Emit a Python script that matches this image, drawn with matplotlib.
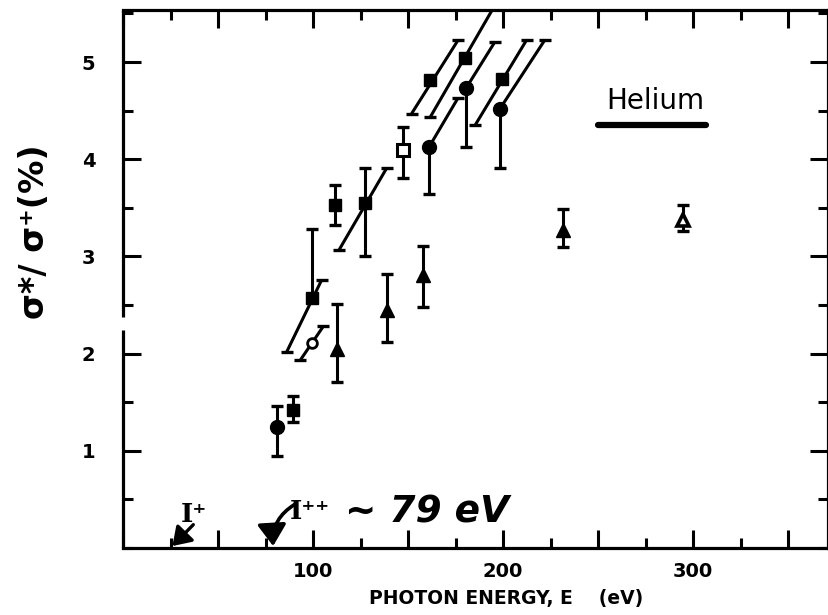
import numpy as np
import matplotlib.pyplot as plt
from matplotlib.ticker import MultipleLocator, FixedLocator, FuncFormatter

nan = np.nan

# filled circles: photon energy (eV), ratio (%), ends of the vertical bar
circ_E = [81.0, 161.2, 180.5, 198.4]
circ_r = [1.24, 4.13, 4.73, 4.52]
circ_lo = [0.95, 3.64, 4.13, 3.91]
circ_hi = [1.46, 4.13, 4.73, 4.52]

# filled squares (last three only carry slanted bars)
sq_E = [89.6, 99.3, 111.6, 127.4, 161.6, 180.0, 199.3]
sq_r = [1.42, 2.57, 3.53, 3.55, 4.81, 5.04, 4.83]
sq_lo = [1.30, 2.57, 3.32, 3.00, nan, nan, nan]
sq_hi = [1.56, 3.28, 3.73, 3.91, nan, nan, nan]

# open square and open circle
osq_E, osq_r, osq_lo, osq_hi = [147.5], [4.09], [3.81], [4.33]
ocirc_E, ocirc_r = [99.3], [2.11]

# triangles
tri_E = [112.5, 138.8, 158.0, 231.4]
tri_r = [2.05, 2.45, 2.81, 3.27]
tri_lo = [1.71, 2.12, 2.48, 3.10]
tri_hi = [2.51, 2.82, 3.11, 3.49]
otri_E, otri_r, otri_lo, otri_hi = [294.9], [3.37], [3.26], [3.53]

# slanted bars: start and end of each segment
slant_E0 = [86.2, 93.2, 113.8, 161.2, 151.9, 161.6, 180.5, 185.3, 198.4]
slant_r0 = [2.02, 1.93, 3.07, 4.13, 4.47, 4.43, 4.73, 4.35, 4.52]
slant_E1 = [104.6, 105.4, 138.8, 176.3, 176.5, 196.2, 195.8, 212.5, 222.1]
slant_r1 = [2.76, 2.28, 3.91, 4.63, 5.23, 5.60, 5.21, 5.23, 5.23]

# ionisation thresholds
thr_E = [26.0, 79.0]

plt.rcParams['font.family'] = ['DejaVu Sans']

fig = plt.figure(figsize=(8.29, 6.15), dpi=100)
ax = fig.add_axes([123 / 829, 67 / 615, 705 / 829, 538 / 615])
ax.set_xlim(0, 371)
ax.set_ylim(0, 5.535)

lw = 2.3
for s in ['top', 'right', 'bottom']:
    ax.spines[s].set_linewidth(lw)
ax.spines['left'].set_visible(False)
# left axis drawn in two pieces with a small break
tr = ax.get_yaxis_transform()
ax.plot([0, 0], [0, 2.24], transform=tr, color='k', lw=lw, clip_on=False,
        solid_capstyle='butt')
ax.plot([0, 0], [2.38, 5.535], transform=tr, color='k', lw=lw, clip_on=False,
        solid_capstyle='butt')


def bars(E, r, lo, hi):
    E, r, lo, hi = map(np.asarray, (E, r, lo, hi))
    m = ~np.isnan(lo)
    ax.errorbar(E[m], r[m], yerr=[r[m] - lo[m], hi[m] - r[m]], fmt='none',
                ecolor='k', elinewidth=2.2, capsize=4.5, capthick=2.4, zorder=2)


for e0, r0, e1, r1 in zip(slant_E0, slant_r0, slant_E1, slant_r1):
    ax.plot([e0, e1], [r0, r1], color='k', lw=2.2, zorder=2,
            solid_capstyle='butt')
    ax.plot([e0, e1], [r0, r1], ls='none', marker='_', ms=9, mew=2.4,
            color='k', zorder=2)

bars(circ_E, circ_r, circ_lo, circ_hi)
bars(sq_E, sq_r, sq_lo, sq_hi)
bars(osq_E, osq_r, osq_lo, osq_hi)
bars(tri_E, tri_r, tri_lo, tri_hi)
bars(otri_E, otri_r, otri_lo, otri_hi)

ax.plot(circ_E, circ_r, 'o', color='k', ms=10, zorder=3)
ax.plot(sq_E, sq_r, 's', color='k', ms=9, zorder=3)
ax.plot(osq_E, osq_r, 's', mfc='white', mec='k', mew=2.2, ms=8, zorder=3)
ax.plot(ocirc_E, ocirc_r, 'o', mfc='white', mec='k', mew=2.0, ms=7, zorder=3)
ax.plot(tri_E, tri_r, '^', color='k', ms=10, zorder=3)
ax.plot(otri_E, otri_r, '^', mfc='white', mec='k', mew=2.6, ms=9, zorder=3)

# ticks
ax.xaxis.set_major_locator(MultipleLocator(50))
ax.xaxis.set_minor_locator(MultipleLocator(25))
ax.xaxis.set_major_formatter(FuncFormatter(
    lambda v, p: f'{v:.0f}' if v in (100, 200, 300) else ''))
ax.yaxis.set_major_locator(FixedLocator([1, 2, 3, 4, 5]))
ax.yaxis.set_minor_locator(MultipleLocator(0.5))
ax.tick_params(which='both', direction='in', top=True, right=True, width=2.2)
ax.tick_params(which='major', length=13)
ax.tick_params(which='minor', length=7)
ax.tick_params(axis='x', which='major', pad=10, labelsize=14)
ax.tick_params(axis='y', which='major', pad=20, labelsize=14)
for lab in ax.get_xticklabels() + ax.get_yticklabels():
    lab.set_fontweight('bold')

ax.set_xlabel('PHOTON ENERGY, E    (eV)', fontsize=13.5, fontweight='bold',
              labelpad=6)
ax.xaxis.label.set_x((506 - 123) / 705)
fig.text(35 / 829, 1 - 232 / 615, 'σ*/ σ⁺(%)', rotation=90, fontsize=24,
         fontweight='bold', ha='center', va='center')

# sample label
ax.text(280, 4.6, 'Helium', fontsize=20, ha='center', va='center')
ax.plot([250, 307], [4.35, 4.35], color='k', lw=4.5, solid_capstyle='round')

# threshold markers
head = '-|>,head_length=0.6,head_width=0.4'
ax.text(37.5, 0.34, 'I⁺', family='DejaVu Serif', fontweight='bold',
        fontsize=19, ha='center', va='center')
ax.annotate('', xy=(thr_E[0], 0.02), xytext=(37.0, 0.24),
            annotation_clip=False,
            arrowprops=dict(arrowstyle=head, mutation_scale=18, color='k',
                            lw=2.4, shrinkA=0, shrinkB=0))
ax.text(98.4, 0.38, 'I⁺⁺', family='DejaVu Serif', fontweight='bold',
        fontsize=19, ha='center', va='center')
ax.annotate('', xy=(thr_E[1], 0.02), xytext=(90.5, 0.45),
            annotation_clip=False,
            arrowprops=dict(arrowstyle=head, mutation_scale=22, color='k',
                            lw=2.6, shrinkA=0, shrinkB=0,
                            connectionstyle='arc3,rad=0.3'))
ax.text(117, 0.37, f'~ {thr_E[1]:.0f} eV', fontsize=27, fontweight='bold',
        fontstyle='italic', ha='left', va='center')

fig.savefig('out.png', dpi=100)
